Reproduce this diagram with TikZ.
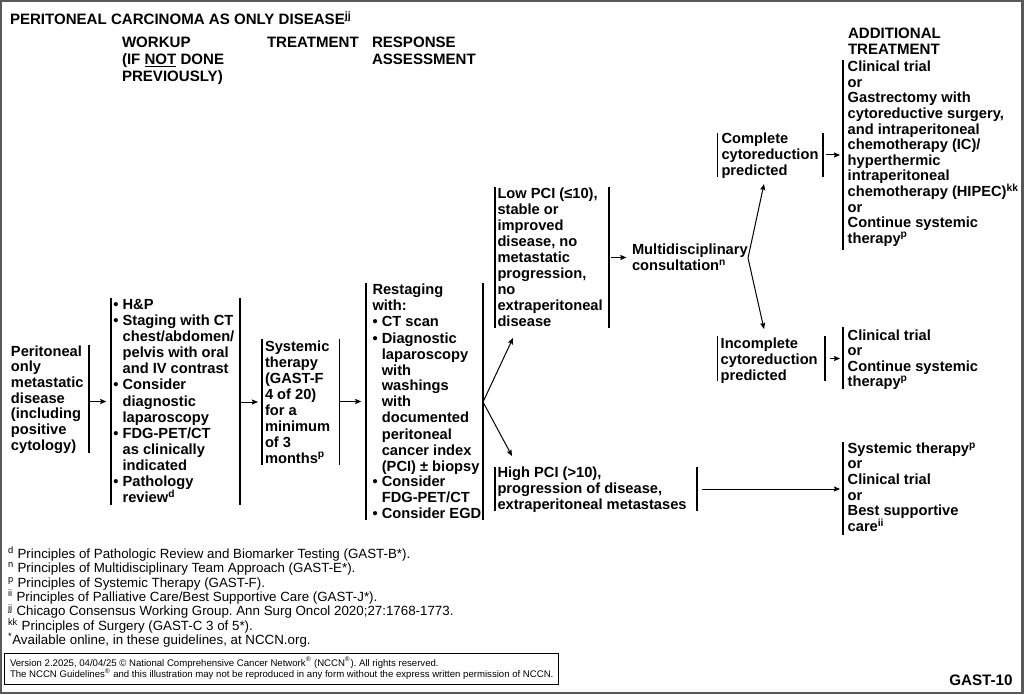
\documentclass[tikz,border=0pt]{standalone}
\usepackage{fontspec}
\setmainfont{Liberation Sans}
\usetikzlibrary{arrows.meta,fit}
\frenchspacing
\newcommand\bul{\makebox[7pt][l]{•}}
\newcommand\ind{\hspace*{7pt}}
\newcommand\tl[1]{\begin{tabular}[t]{@{}l@{}}#1\end{tabular}}
\newcommand\spx[1]{\smash{\textsuperscript{#1}}}
\begin{document}
\begin{tikzpicture}[x=0.75pt,y=-0.75pt,
  barln/.style={line width=0.85pt},
  arr/.style={line width=0.75pt,-{Stealth[length=4.6pt,width=3.8pt,inset=0.7pt]}},
  bars/.style={inner sep=0pt,outer sep=0pt,minimum width=0pt,minimum height=0pt,
    append after command={(\tikzlastnode.north west) edge[barln] (\tikzlastnode.south west)
      (\tikzlastnode.north east) edge[barln] (\tikzlastnode.south east)}},
  lbar/.style={inner sep=0pt,outer sep=0pt,minimum width=0pt,minimum height=0pt,
    append after command={(\tikzlastnode.north west) edge[barln] (\tikzlastnode.south west)}},
  rbar/.style={inner sep=0pt,outer sep=0pt,minimum width=0pt,minimum height=0pt,
    append after command={(\tikzlastnode.north east) edge[barln] (\tikzlastnode.south east)}},
  txt/.style={anchor=base west,inner sep=0pt,outer sep=0pt,
    font=\fontsize{11}{#1}\selectfont\bfseries},
  txt/.default=12pt,
  hdr/.style={anchor=base west,inner sep=0pt,outer sep=0pt,
    font=\fontsize{11.3}{#1}\selectfont\bfseries},
  hdr/.default=12.5pt,
  fnote/.style={anchor=base west,inner sep=0pt,outer sep=0pt,
    font=\fontsize{10}{10.8}\selectfont},
  copy/.style={anchor=base west,inner sep=0pt,outer sep=0pt,
    font=\fontsize{7.2}{8.5}\selectfont}
]
\useasboundingbox (0,0) rectangle (1024,695);
\draw[line width=1.6pt,black!65] (1,1) rectangle (1022.5,693);

% headings
\node[hdr] (title) at (10,25) {PERITONEAL CARCINOMA AS ONLY DISEASE\spx{jj}};
\node[hdr] (h1) at (122,48) {\tl{WORKUP\\(IF \underline{NOT} DONE\\PREVIOUSLY)}};
\node[hdr] (h2) at (267,48) {TREATMENT};
\node[hdr] (h3) at (372,48) {\tl{RESPONSE\\ASSESSMENT}};
\node[hdr=11.6pt] (h4) at (848,39) {\tl{ADDITIONAL\\TREATMENT}};

% bracket bars
\node[rbar,fit={(89,345) (89,453)}] (pr) {};
\node[bars,fit={(111,298) (240,505)}] (wk) {};
\node[bars,fit={(262,339) (339.5,465)}] (st) {};
\node[bars,fit={(366,283) (483,520)}] (rs) {};
\node[bars,fit={(495,187) (609,328)}] (lp) {};
\node[bars,fit={(717.5,133) (823,177)}] (cp) {};
\node[bars,fit={(717.5,336) (825,381)}] (ic) {};
\node[bars,fit={(495,467) (697,511)}] (hp) {};
\node[lbar,fit={(843,60) (843,250)}] (at1) {};
\node[lbar,fit={(843,327) (843,389)}] (at2) {};
\node[lbar,fit={(843,442) (843,535)}] (at3) {};

% texts
\node[txt=11.8pt] (prt) at (11,356) {\tl{Peritoneal\\only\\metastatic\\disease\\(including\\positive\\cytology)}};
\node[txt=12.1pt] (wkt) at (113.3,309.3) {\tl{\bul H\&P\\\bul Staging with CT\\\ind chest/abdomen/\\\ind pelvis with oral\\\ind and IV contrast\\\bul Consider\\\ind diagnostic\\\ind laparoscopy\\\bul FDG-PET/CT\\\ind as clinically\\\ind indicated\\\bul Pathology\\\ind review\spx{d}}};
\node[txt] (stt) at (265,351) {\tl{Systemic\\therapy\\(GAST-F\\4 of 20)\\for a\\minimum\\of 3\\months\spx{p}}};
\node[txt] (rst) at (372.5,295) {\tl{Restaging\\with:\\\bul CT scan\\\bul Diagnostic\\\ind laparoscopy\\\ind with\\\ind washings\\\ind with\\\ind documented\\\ind peritoneal\\\ind cancer index\\\ind (PCI) ± biopsy\\\bul Consider\\\ind FDG-PET/CT\\\bul Consider EGD}};
\node[txt] (lpt) at (497.5,198.3) {\tl{Low PCI (≤10),\\stable or\\improved\\disease, no\\metastatic\\progression,\\no\\extraperitoneal\\disease}};
\node[txt=11.8pt] (mdt) at (632,255) {\tl{Multidisciplinary\\consultation\spx{n}}};
\node[txt] (cpt) at (721.5,144) {\tl{Complete\\cytoreduction\\predicted}};
\node[txt] (ict) at (720.7,348.3) {\tl{Incomplete\\cytoreduction\\predicted}};
\node[txt] (hpt) at (497.5,477) {\tl{High PCI (>10),\\progression of disease,\\extraperitoneal metastases}};
\node[txt=11.7pt] (at1t) at (847.7,71.7) {\tl{Clinical trial\\or\\Gastrectomy with\\cytoreductive surgery,\\and intraperitoneal\\chemotherapy (IC)/\\hyperthermic\\intraperitoneal\\chemotherapy (HIPEC)\spx{kk}\\or\\Continue systemic\\therapy\spx{p}}};
\node[txt=11.7pt] (at2t) at (847.7,340) {\tl{Clinical trial\\or\\Continue systemic\\therapy\spx{p}}};
\node[txt=11.7pt] (at3t) at (847.7,453.3) {\tl{Systemic therapy\spx{p}\\or\\Clinical trial\\or\\Best supportive\\care\spx{ii}}};

% connectors
\draw[arr,shorten >=3.5pt] (pr.east |- wk.west) -- (wk.west);
\draw[arr,shorten >=3pt] (wk.east |- st.west) -- (st.west);
\draw[arr,shorten >=3.5pt] (st.east |- rs.west) -- (rs.west);
\coordinate (f1) at (483,402);
\coordinate (lpin) at (513,338);
\coordinate (hpin) at (512,456);
\draw[arr] (f1) -- (lpin);
\draw[arr] (f1) -- (hpin);
\draw[arr,shorten <=1.5pt,shorten >=4.2pt] (lp.east) -- (lp.east -| mdt.west);
\coordinate (f2) at (748,258);
\coordinate (cpin) at (764,184);
\coordinate (icin) at (764,329);
\draw[arr] (f2) -- (cpin);
\draw[arr] (f2) -- (icin);
\draw[arr,shorten <=2.2pt,shorten >=2.2pt] (cp.east) -- (cp.east -| at1.west);
\draw[arr,shorten <=3.8pt,shorten >=2.2pt] (ic.east) -- (ic.east -| at2.west);
\draw[arr,shorten <=3.8pt,shorten >=2.2pt] (hp.east) -- (hp.east -| at3.west);

% footnotes
\node[fnote] (fn) at (8,558.3) {\tl{\spx{d} Principles of Pathologic Review and Biomarker Testing (GAST-B*).\\
\spx{n} Principles of Multidisciplinary Team Approach (GAST-E*).\\
\spx{p} Principles of Systemic Therapy (GAST-F).\\
\spx{ii} Principles of Palliative Care/Best Supportive Care (GAST-J*).\\
\spx{jj} Chicago Consensus Working Group. Ann Surg Oncol 2020;27:1768-1773.\\
\spx{kk} Principles of Surgery (GAST-C 3 of 5*).\\
\spx{*}Available online, in these guidelines, at NCCN.org.}};

\node[draw,line width=0.75pt,inner sep=0pt,outer sep=0pt,fit={(4.5,653) (558,684.5)}] (cbox) {};
\node[copy] (cpy) at (10,666) {\tl{Version 2.2025, 04/04/25 © National Comprehensive Cancer Network\spx{®} (NCCN\spx{®}). All rights reserved.\\
The NCCN Guidelines\spx{®} and this illustration may not be reproduced in any form without the express written permission of NCCN.}};
\node[anchor=base west,inner sep=0pt,font=\fontsize{11.4}{12}\selectfont\bfseries] (gast) at (949,685) {GAST-10};
\end{tikzpicture}
\end{document}
